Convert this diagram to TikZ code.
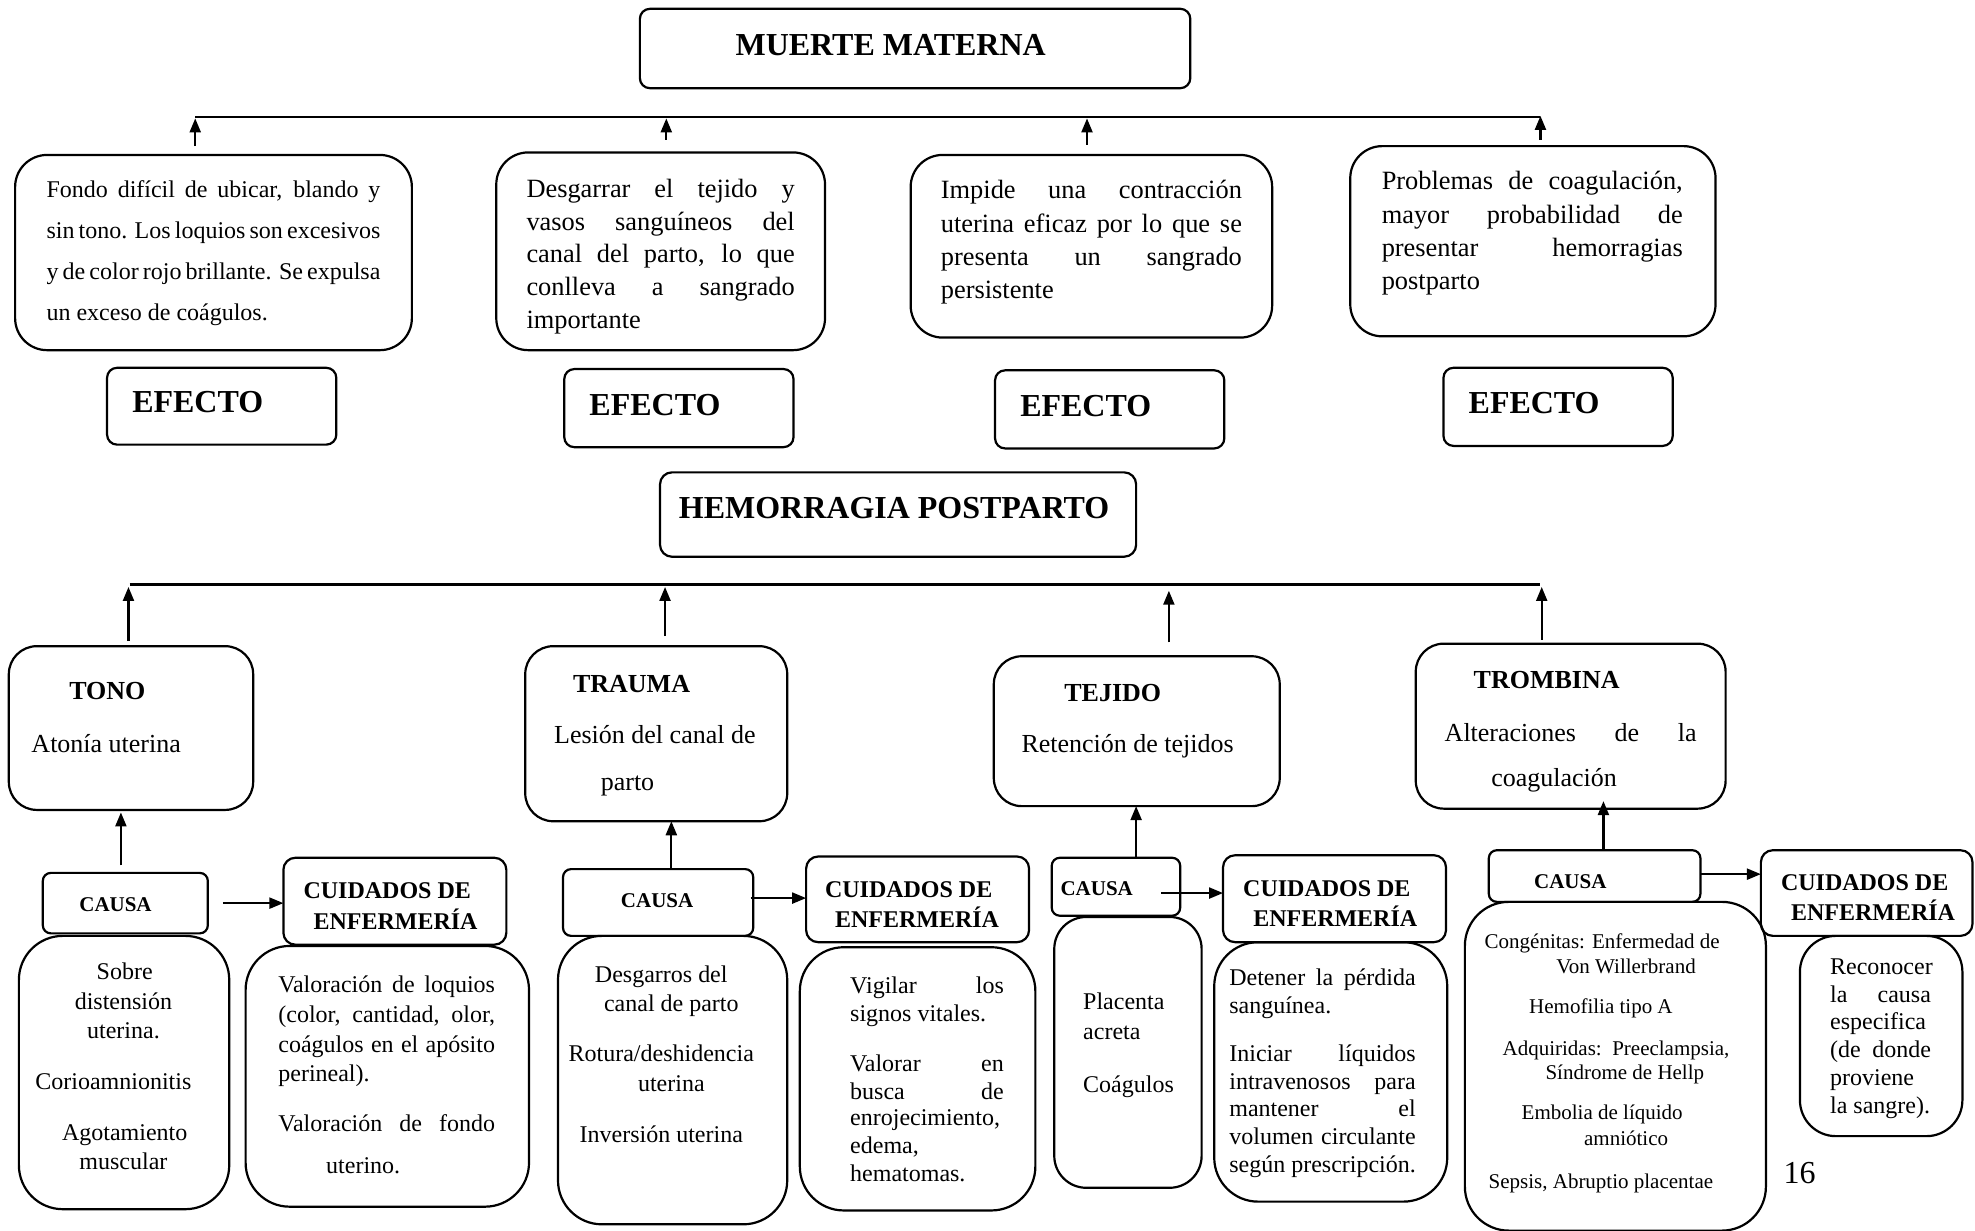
\documentclass[tikz,border=0pt]{standalone}
\usepackage{fontspec}
\setmainfont{Liberation Serif}
\usetikzlibrary{arrows.meta}
\newcommand\boxat[6]{\node[#6, minimum width={(#4-#2)*0.63pt}, minimum height={(#5-#3)*0.63pt}] (#1) at ({(#2+#4)/2},{(#3+#5)/2}) {};}
\newcommand\Tleft[5][]{\node[tx,#1,anchor=mid west] (#2) at (#3,#4) {#5};}
\newcommand\Tctr[5][]{\node[tx,#1,anchor=mid] (#2) at (#3,#4) {#5};}
\newcommand\Tjust[6][]{\pgfmathsetmacro\jw{(#4-#3)*0.63}\node[tx,#1,anchor=mid west] (#2) at (#3,#5) {\makebox[\jw pt][s]{#6}};}
\tikzset{
  bx/.style={draw, line width=1.1pt, inner sep=0pt, outer sep=0pt},
  bx4/.style={bx, rounded corners=4pt},
  bx5/.style={bx, rounded corners=5pt},
  bx6/.style={bx, rounded corners=6pt},
  bx14/.style={bx, rounded corners=14pt},
  bx16/.style={bx, rounded corners=16pt},
  bx18/.style={bx, rounded corners=18pt},
  bx22/.style={bx, rounded corners=22pt},
  tx/.style={inner sep=0pt, outer sep=0pt, yshift=-1.9pt},
  fT/.style={font=\fontsize{16}{19}\selectfont\bfseries},
  fE1/.style={font=\fontsize{12}{14}\selectfont},
  fE/.style={font=\fontsize{13.2}{15}\selectfont},
  fCb/.style={font=\fontsize{13}{15}\selectfont\bfseries},
  fC/.style={font=\fontsize{13}{15}\selectfont},
  fCa/.style={font=\fontsize{10.5}{12}\selectfont\bfseries},
  fCu/.style={font=\fontsize{12}{14}\selectfont\bfseries},
  fD/.style={font=\fontsize{12}{14}\selectfont},
  fD4/.style={font=\fontsize{10.5}{12}\selectfont},
  fP/.style={font=\fontsize{16}{19}\selectfont},
  arr/.style={line width=1.1pt, -{Triangle[length=7pt,width=5.5pt]}},
  bus/.style={line width=1.1pt},
}
\begin{document}
\begin{tikzpicture}[x=0.63pt,y=-0.63pt]
\fill[white] (0,0) rectangle (1568,977);
\useasboundingbox (0,0) rectangle (1568,977);

% ---------- top ----------
\boxat{mm}{508}{7}{945}{70}{bx5}
\Tleft[fT]{tmm}{584}{37}{MUERTE MATERNA}

\coordinate (b1l) at (155,93);
\coordinate (b1r) at (1223,93);
\draw[bus] (b1l) -- (b1r);

\boxat{e1}{12}{123}{327}{278}{bx16}
\boxat{e2}{394}{121}{655}{278}{bx16}
\boxat{e3}{723}{123}{1010}{268}{bx16}
\boxat{e4}{1072}{116}{1362}{267}{bx16}

\coordinate (ua1) at (155,116); \coordinate (ub1) at (155,94);
\coordinate (ua2) at (529,111); \coordinate (ub2) at (529,94);
\coordinate (ua3) at (863,115); \coordinate (ub3) at (863,94);
\coordinate (ua4) at (1223,111); \coordinate (ub4) at (1223,92);
\draw[arr] (ua1) -- (ub1);
\draw[arr] (ua2) -- (ub2);
\draw[arr] (ua3) -- (ub3);
\draw[arr] (ua4) -- (ub4);

\Tjust[fE1]{e1a}{37}{302}{150}{Fondo difícil de ubicar, blando y}
\Tjust[fE1]{e1b}{37}{302}{183}{sin tono. Los loquios son excesivos}
\Tjust[fE1]{e1c}{37}{302}{215}{y de color rojo brillante. Se expulsa}
\Tleft[fE1]{e1d}{37}{248}{un exceso de coágulos.}

\Tjust[fE]{e2a}{418}{631}{150}{Desgarrar el tejido y}
\Tjust[fE]{e2b}{418}{631}{176}{vasos sanguíneos del}
\Tjust[fE]{e2c}{418}{631}{202}{canal del parto, lo que}
\Tjust[fE]{e2d}{418}{631}{228}{conlleva a sangrado}
\Tleft[fE]{e2e}{418}{254}{importante}

\Tjust[fE]{e3a}{747}{986}{151}{Impide una contracción}
\Tjust[fE]{e3b}{747}{986}{178}{uterina eficaz por lo que se}
\Tjust[fE]{e3c}{747}{986}{204}{presenta un sangrado}
\Tleft[fE]{e3d}{747}{230}{persistente}

\Tjust[fE]{e4a}{1097}{1336}{144}{Problemas de coagulación,}
\Tjust[fE]{e4b}{1097}{1336}{171}{mayor probabilidad de}
\Tjust[fE]{e4c}{1097}{1336}{197}{presentar hemorragias}
\Tleft[fE]{e4d}{1097}{223}{postparto}

\boxat{ef1}{85}{292}{267}{353}{bx5}
\boxat{ef2}{448}{293}{630}{355}{bx5}
\boxat{ef3}{790}{294}{972}{356}{bx5}
\boxat{ef4}{1146}{292}{1328}{354}{bx5}
\Tleft[fT]{tef1}{105}{321}{EFECTO}
\Tleft[fT]{tef2}{468}{323}{EFECTO}
\Tleft[fT]{tef3}{810}{324}{EFECTO}
\Tleft[fT]{tef4}{1166}{322}{EFECTO}

% ---------- middle ----------
\boxat{hp}{524}{375}{902}{442}{bx6}
\Tleft[fT]{thp}{539}{405}{HEMORRAGIA POSTPARTO}

\coordinate (b2l) at (103,464);
\coordinate (b2r) at (1223,464);
\draw[bus] (b2l) -- (b2r);

\coordinate (va1) at (102,509); \coordinate (vb1) at (102,466);
\coordinate (va2) at (528,505); \coordinate (vb2) at (528,466);
\coordinate (va3) at (928,510); \coordinate (vb3) at (928,469);
\coordinate (va4) at (1224,508); \coordinate (vb4) at (1224,466);
\draw[arr] (va1) -- (vb1);
\draw[arr] (va2) -- (vb2);
\draw[arr] (va3) -- (vb3);
\draw[arr] (va4) -- (vb4);

\boxat{tono}{7}{513}{201}{643}{bx14}
\boxat{trauma}{417}{513}{625}{652}{bx14}
\boxat{tejido}{789}{521}{1016}{640}{bx14}
\boxat{trombina}{1124}{511}{1370}{642}{bx14}

\Tleft[fCb]{ttono}{55}{549}{TONO}
\Tleft[fC]{ttono2}{25}{591}{Atonía uterina}
\Tleft[fCb]{ttrauma}{455}{543}{TRAUMA}
\Tleft[fC]{ttrauma2}{440}{584}{Lesión del canal de}
\Tleft[fC]{ttrauma3}{477}{621}{parto}
\Tleft[fCb]{ttejido}{845}{550}{TEJIDO}
\Tleft[fC]{ttejido2}{811}{591}{Retención de tejidos}
\Tleft[fCb]{ttromb}{1170}{540}{TROMBINA}
\Tjust[fC]{ttromb2}{1147}{1347}{582}{Alteraciones de la}
\Tleft[fC]{ttromb3}{1184}{618}{coagulación}

% ---------- causes ----------
\boxat{c1}{34}{693}{165}{741}{bx4}
\boxat{c2}{447}{690}{598}{743}{bx4}
\boxat{c3}{835}{681}{937}{727}{bx4}
\boxat{c4}{1182}{675}{1350}{716}{bx4}
\Tleft[fCa]{tc1}{63}{717}{CAUSA}
\Tleft[fCa]{tc2}{493}{714}{CAUSA}
\Tleft[fCa]{tc3}{842}{704}{CAUSA}
\Tleft[fCa]{tc4}{1218}{699}{CAUSA}

\coordinate (wa1) at (96,687); \coordinate (wb1) at (96,645);
\coordinate (wa2) at (533,690); \coordinate (wb2) at (533,652);
\coordinate (wa3) at (902,681); \coordinate (wb3) at (902,640);
\coordinate (wa4) at (1273,675); \coordinate (wb4) at (1273,636);
\draw[arr] (wa1) -- (wb1);
\draw[arr] (wa2) -- (wb2);
\draw[arr] (wa3) -- (wb3);
\draw[arr] (wa4) -- (wb4);

\boxat{cu1}{225}{681}{402}{750}{bx6}
\boxat{cu2}{640}{680}{817}{748}{bx6}
\boxat{cu3}{971}{679}{1148}{748}{bx6}
\boxat{cu4}{1398}{675}{1566}{743}{bx6}
\Tleft[fCu]{tcu1a}{241}{707}{CUIDADOS DE}
\Tleft[fCu]{tcu1b}{249}{731}{ENFERMERÍA}
\Tleft[fCu]{tcu2a}{655}{706}{CUIDADOS DE}
\Tleft[fCu]{tcu2b}{663}{730}{ENFERMERÍA}
\Tleft[fCu]{tcu3a}{987}{705}{CUIDADOS DE}
\Tleft[fCu]{tcu3b}{995}{729}{ENFERMERÍA}
\Tleft[fCu]{tcu4a}{1414}{700}{CUIDADOS DE}
\Tleft[fCu]{tcu4b}{1422}{724}{ENFERMERÍA}

\coordinate (xa1) at (177,717); \coordinate (xb1) at (225,717);
\coordinate (xa2) at (596,713); \coordinate (xb2) at (640,713);
\coordinate (xa3) at (922,709); \coordinate (xb3) at (971,709);
\coordinate (xa4) at (1350,694); \coordinate (xb4) at (1398,694);
\draw[arr] (xa1) -- (xb1);
\draw[arr] (xa2) -- (xb2);
\draw[arr] (xa3) -- (xb3);
\draw[arr] (xa4) -- (xb4);

% ---------- details ----------
\boxat{d1}{15}{743}{182}{960}{bx22}
\boxat{d1b}{195}{751}{420}{958}{bx22}
\boxat{d2}{443}{743}{625}{972}{bx22}
\boxat{d2b}{635}{752}{822}{961}{bx22}
\boxat{d3}{837}{728}{954}{943}{bx16}
\boxat{d3b}{964}{748}{1149}{954}{bx22}
\boxat{d4}{1163}{716}{1402}{977}{bx22}
\boxat{d4b}{1429}{743}{1558}{902}{bx18}

\Tctr[fD]{d1l1}{99}{771}{Sobre}
\Tctr[fD]{d1l2}{98}{795}{distensión}
\Tctr[fD]{d1l3}{98}{818}{uterina.}
\Tctr[fD]{d1l4}{90}{858}{Corioamnionitis}
\Tctr[fD]{d1l5}{99}{899}{Agotamiento}
\Tctr[fD]{d1l6}{98}{922}{muscular}

\Tjust[fD]{d1bl1}{221}{393}{781}{Valoración de loquios}
\Tjust[fD]{d1bl2}{221}{393}{805}{(color, cantidad, olor,}
\Tjust[fD]{d1bl3}{221}{393}{829}{coágulos en el apósito}
\Tleft[fD]{d1bl4}{221}{852}{perineal).}
\Tjust[fD]{d1bl5}{221}{393}{892}{Valoración de fondo}
\Tleft[fD]{d1bl6}{259}{925}{uterino.}

\Tctr[fD]{d2l1}{525}{773}{Desgarros del}
\Tctr[fD]{d2l2}{533}{796}{canal de parto}
\Tctr[fD]{d2l3}{525}{836}{Rotura/deshidencia}
\Tctr[fD]{d2l4}{533}{860}{uterina}
\Tctr[fD]{d2l5}{525}{900}{Inversión uterina}

\Tjust[fD]{d2bl1}{675}{797}{782}{Vigilar los}
\Tleft[fD]{d2bl2}{675}{804}{signos vitales.}
\Tjust[fD]{d2bl3}{675}{797}{844}{Valorar en}
\Tjust[fD]{d2bl4}{675}{797}{866}{busca de}
\Tleft[fD]{d2bl5}{675}{887}{enrojecimiento,}
\Tleft[fD]{d2bl6}{675}{909}{edema,}
\Tleft[fD]{d2bl7}{675}{931}{hematomas.}

\Tleft[fD]{d3l1}{860}{795}{Placenta}
\Tleft[fD]{d3l2}{860}{819}{acreta}
\Tleft[fD]{d3l3}{860}{861}{Coágulos}

\Tjust[fD]{d3bl1}{976}{1124}{776}{Detener la pérdida}
\Tleft[fD]{d3bl2}{976}{798}{sanguínea.}
\Tjust[fD]{d3bl3}{976}{1124}{836}{Iniciar líquidos}
\Tjust[fD]{d3bl4}{976}{1124}{858}{intravenosos para}
\Tjust[fD]{d3bl5}{976}{1124}{880}{mantener el}
\Tjust[fD]{d3bl6}{976}{1124}{902}{volumen circulante}
\Tleft[fD]{d3bl7}{976}{924}{según prescripción.}

\Tctr[fD4]{d4l1}{1272}{746}{Congénitas: Enfermedad de}
\Tctr[fD4]{d4l2}{1291}{766}{Von Willerbrand}
\Tctr[fD4]{d4l3}{1271}{798}{Hemofilia tipo A}
\Tctr[fD4]{d4l4}{1283}{831}{Adquiridas:\ \ Preeclampsia,}
\Tctr[fD4]{d4l5}{1290}{850}{Síndrome de Hellp}
\Tctr[fD4]{d4l6}{1272}{882}{Embolia de líquido}
\Tctr[fD4]{d4l7}{1291}{903}{amniótico}
\Tctr[fD4]{d4l8}{1271}{937}{Sepsis, Abruptio placentae}

\Tleft[fD]{d4bl1}{1453}{767}{Reconocer}
\Tjust[fD]{d4bl2}{1453}{1533}{789}{la causa}
\Tleft[fD]{d4bl3}{1453}{811}{especifica}
\Tjust[fD]{d4bl4}{1453}{1533}{833}{(de donde}
\Tleft[fD]{d4bl5}{1453}{855}{proviene}
\Tleft[fD]{d4bl6}{1453}{877}{la sangre).}

\Tleft[fP]{pnum}{1416}{933}{16}
\end{tikzpicture}
\end{document}
